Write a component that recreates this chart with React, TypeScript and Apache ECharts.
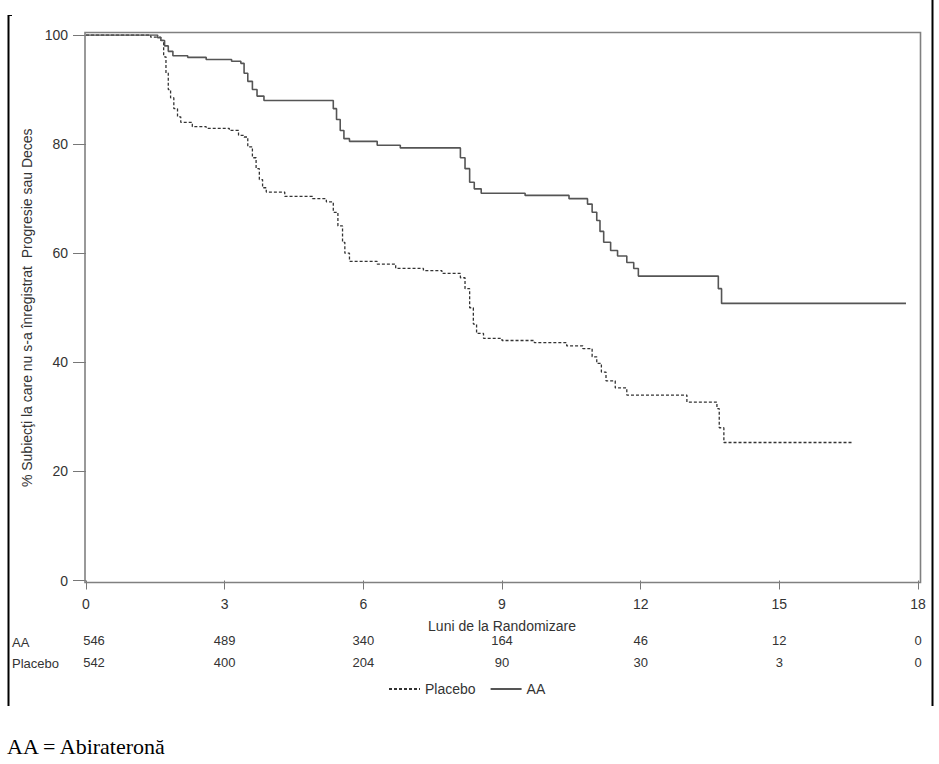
import React, { useEffect, useRef } from "react";
import * as echarts from "echarts";

// ---------- data ----------
const xTicks = [0, 3, 6, 9, 12, 15, 18];
const aaAtRisk = [546, 489, 340, 164, 46, 12, 0];
const placeboAtRisk = [542, 400, 204, 90, 30, 3, 0];

const seriesNames = ["Placebo", "AA"];
const rowLabels = ["AA", "Placebo"];

const aaTimes = [
  0, 1.55, 1.62, 1.7, 1.78, 1.88, 2.2, 2.6, 3.15, 3.35, 3.42, 3.5, 3.6, 3.7, 3.85,
  5.35, 5.42, 5.5, 5.58, 5.7, 6.3, 6.8, 8.1, 8.2, 8.3, 8.4, 8.55, 9.5, 10.45,
  10.85, 10.95, 11.05, 11.12, 11.2, 11.35, 11.5, 11.7, 11.85, 11.95, 13.68, 13.75, 17.74,
];
const aaSurv = [
  100, 99.5, 99.0, 98.0, 97.0, 96.2, 95.9, 95.5, 95.2, 94.8, 93.0, 91.5, 90.0, 88.8, 88.0,
  86.5, 84.5, 82.5, 81.0, 80.5, 79.8, 79.3, 77.5, 75.5, 73.0, 71.8, 71.0, 70.6, 70.0,
  69.0, 67.5, 66.0, 64.0, 62.0, 60.5, 59.5, 58.3, 57.2, 55.8, 53.5, 50.8, 50.8,
];

const placeboTimes = [
  0, 1.4, 1.62, 1.68, 1.73, 1.78, 1.83, 1.9, 1.98, 2.05, 2.3, 2.6, 3.1, 3.3, 3.42, 3.5,
  3.6, 3.68, 3.75, 3.82, 3.9, 4.3, 4.9, 5.2, 5.35, 5.45, 5.55, 5.6, 5.7, 6.3, 6.7, 7.3,
  7.7, 8.1, 8.2, 8.3, 8.38, 8.45, 8.6, 9.0, 9.7, 10.4, 10.75, 10.95, 11.05, 11.15, 11.25,
  11.45, 11.7, 13.0, 13.65, 13.7, 13.8, 16.6,
];
const placeboSurv = [
  100, 99.6, 99.0, 96.0, 93.0, 90.0, 88.5, 86.5, 85.0, 84.0, 83.2, 82.9, 82.5, 81.6, 81.3, 79.5,
  77.5, 75.5, 73.5, 72.0, 71.2, 70.4, 70.0, 69.4, 67.5, 65.0, 62.0, 60.0, 58.5, 58.0, 57.2, 56.8,
  56.3, 55.5, 53.5, 50.0, 47.0, 45.3, 44.4, 44.0, 43.6, 43.0, 42.5, 41.0, 39.8, 38.2, 36.6,
  35.3, 34.0, 32.7, 31.5, 28.0, 25.3, 25.3,
];

const yTitle = "% Subiecţi la care nu s-a înregistrat  Progresie sau Deces";
const xTitle = "Luni de la Randomizare";
const footnote = "AA = Abirateronă";

// ---------- styles ----------
const FONT = "'Liberation Sans', Arial, sans-serif";
const TXT = "#333";
const AXIS = "#777";

function atRiskAxis(values: number[], offset: number) {
  return {
    type: "value",
    gridIndex: 0,
    position: "bottom",
    offset,
    min: 0,
    max: 18,
    interval: 3,
    axisLine: { show: false },
    axisTick: { show: false },
    splitLine: { show: false },
    axisLabel: {
      margin: 8,
      color: TXT,
      fontSize: 13,
      fontFamily: FONT,
      formatter: (v: number) => {
        const i = xTicks.indexOf(v);
        if (i < 0) return "";
        return i === 0 ? `{first|${values[i]}}` : String(values[i]);
      },
      rich: {
        first: { padding: [0, 0, 0, 16], fontSize: 13, fontFamily: FONT, color: TXT },
      },
    },
  };
}

export default function App() {
  const ref = useRef<HTMLDivElement>(null);

  useEffect(() => {
    if (!ref.current) return;
    const chart = echarts.init(ref.current, null, { renderer: "svg" });
    const aaData = aaTimes.map((t, i) => [t, aaSurv[i]]);
    const plData = placeboTimes.map((t, i) => [t, placeboSurv[i]]);

    chart.setOption({
      animation: false,
      backgroundColor: "#fff",
      grid: { left: 86, right: 21, top: 35, bottom: 183.5, containLabel: false },
      legend: {
        data: seriesNames,
        left: 383,
        top: 677,
        itemWidth: 31,
        itemHeight: 14,
        itemGap: 14,
        itemStyle: { opacity: 0 },
        textStyle: { color: TXT, fontSize: 14, fontFamily: FONT },
      },
      xAxis: [
        {
          type: "value",
          min: 0,
          max: 18,
          interval: 3,
          axisLine: { show: false },
          axisTick: { show: true, length: 9, lineStyle: { color: AXIS, width: 1 } },
          splitLine: { show: false },
          axisLabel: { margin: 16, color: TXT, fontSize: 14, fontFamily: FONT },
          name: xTitle,
          nameLocation: "middle",
          nameGap: 38,
          nameTextStyle: { color: TXT, fontSize: 14, fontFamily: FONT },
        },
        atRiskAxis(aaAtRisk, 45),
        atRiskAxis(placeboAtRisk, 67),
      ],
      yAxis: {
        type: "value",
        min: 0,
        max: 100,
        interval: 20,
        axisLine: { show: false },
        axisTick: { show: true, length: 13, lineStyle: { color: AXIS, width: 1 } },
        splitLine: { show: false },
        axisLabel: { margin: 18, color: TXT, fontSize: 14, fontFamily: FONT },
        name: yTitle,
        nameLocation: "middle",
        nameGap: 52,
        nameRotate: 90,
        nameTextStyle: { color: TXT, fontSize: 14, fontFamily: FONT },
      },
      series: [
        {
          name: seriesNames[0],
          type: "line",
          step: "end",
          data: plData,
          symbol: "none",
          showSymbol: false,
          lineStyle: { color: "#333", width: 1.3, type: [3, 2] },
          itemStyle: { color: "#333" },
          z: 3,
        },
        {
          name: seriesNames[1],
          type: "line",
          step: "end",
          data: aaData,
          symbol: "none",
          showSymbol: false,
          lineStyle: { color: "#555", width: 1.6, type: "solid" },
          itemStyle: { color: "#555" },
          z: 4,
        },
      ],
      graphic: [
        {
          type: "rect",
          shape: { x: 85, y: 32.5, width: 835.5, height: 550 },
          style: { fill: "none", stroke: "#808080", lineWidth: 1.6 },
          silent: true,
          z: 1,
        },
        {
          type: "line",
          shape: { x1: 8.5, y1: 15, x2: 8.5, y2: 706 },
          style: { stroke: "#000", lineWidth: 2 },
          silent: true,
        },
        {
          type: "line",
          shape: { x1: 8, y1: 15.5, x2: 12, y2: 15.5 },
          style: { stroke: "#000", lineWidth: 1 },
          silent: true,
        },
        {
          type: "line",
          shape: { x1: 932.5, y1: 0, x2: 932.5, y2: 706 },
          style: { stroke: "#000", lineWidth: 2 },
          silent: true,
        },
        {
          type: "text",
          x: 12,
          y: 642,
          style: { text: rowLabels[0], fill: TXT, fontSize: 13, fontFamily: FONT, verticalAlign: "middle" },
          silent: true,
        },
        {
          type: "text",
          x: 12,
          y: 663.5,
          style: { text: rowLabels[1], fill: TXT, fontSize: 13, fontFamily: FONT, verticalAlign: "middle" },
          silent: true,
        },
        {
          type: "text",
          x: 7,
          y: 746,
          style: {
            text: footnote,
            fill: "#000",
            fontSize: 22,
            fontFamily: "'Liberation Serif', 'Times New Roman', serif",
            verticalAlign: "middle",
          },
          silent: true,
        },
      ],
    });
    return () => chart.dispose();
  }, []);

  return (
    <div
      ref={ref}
      style={{ position: "absolute", left: 0, top: 0, width: 939, height: 764, background: "#fff" }}
    />
  );
}
